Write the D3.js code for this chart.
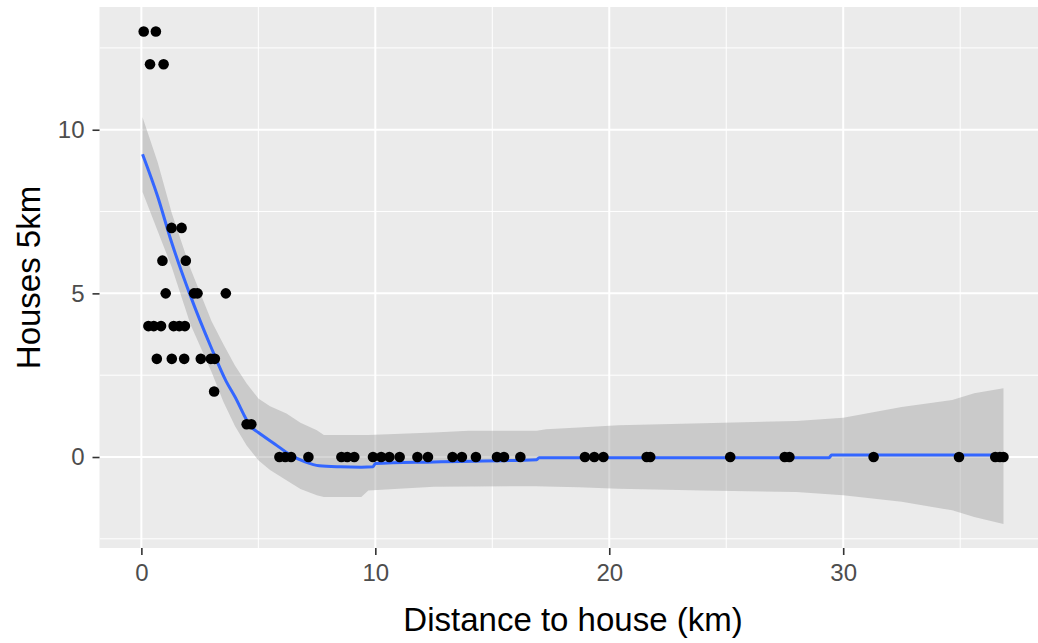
<!DOCTYPE html>
<html>
<head>
<meta charset="utf-8">
<script src="https://cdn.jsdelivr.net/npm/d3@7"></script>
<style>
  html, body { margin: 0; padding: 0; background: #ffffff; }
  svg { display: block; font-family: "Liberation Sans", Arial, sans-serif; }
</style>
</head>
<body>
<svg id="chart" width="1038" height="643"></svg>
<script>
// ---------- data ----------
const pointX = [0.10, 0.62, 0.37, 0.95, 1.29, 1.72, 0.90, 1.90,
  1.04, 2.25, 2.40, 3.61,
  0.30, 0.53, 0.84, 1.38, 1.62, 1.86,
  0.66, 1.30, 1.83, 2.54, 2.97, 3.14,
  3.11, 4.50, 4.70,
  5.90, 6.15, 6.40, 7.14, 8.55, 8.80, 9.10, 9.90, 10.25, 10.60, 11.04, 11.80, 12.25,
  13.30, 13.70, 14.30, 15.20, 15.50, 16.20, 18.96, 19.36, 19.75, 21.60, 21.75,
  25.17, 27.50, 27.70, 31.30, 34.95, 36.50, 36.70, 36.85];
const pointY = [13, 13, 12, 12, 7, 7, 6, 6,
  5, 5, 5, 5,
  4, 4, 4, 4, 4, 4,
  3, 3, 3, 3, 3, 3,
  2, 1, 1,
  0, 0, 0, 0, 0, 0, 0, 0, 0, 0, 0, 0, 0,
  0, 0, 0, 0, 0, 0, 0, 0, 0, 0, 0,
  0, 0, 0, 0, 0, 0, 0, 0];

const smoothX     = [0.05, 0.70, 1.26, 2.11, 2.97, 3.62, 4.00, 4.69, 5.00, 5.70, 6.40, 7.00, 7.60, 8.50, 9.40, 9.90, 10.00, 12.50, 16.90, 17.00, 29.40, 29.50, 36.85];
const smoothY     = [9.25, 7.95, 6.63, 4.90, 3.37, 2.32, 1.84, 0.92, 0.75, 0.40, 0.05, -0.15, -0.27, -0.30, -0.31, -0.30, -0.20, -0.15, -0.08, -0.02, -0.02, 0.06, 0.06];

const bandX       = [0.05, 0.70, 1.30, 2.10, 3.00, 3.50, 4.00, 4.50, 5.00, 5.50, 6.20, 6.80, 7.50, 7.80, 9.40, 9.70, 12.50, 14.00, 16.90, 17.30, 18.70, 20.40, 24.00, 28.00, 30.00, 32.50, 34.66, 35.60, 36.85];
const bandUpper   = [10.38, 9.00, 7.45, 5.75, 4.15, 3.45, 2.80, 2.25, 1.79, 1.55, 1.33, 1.05, 0.82, 0.67, 0.67, 0.67, 0.75, 0.80, 0.80, 0.85, 0.90, 0.97, 1.03, 1.10, 1.20, 1.53, 1.74, 1.95, 2.10];
const bandLower   = [8.10, 6.90, 5.80, 4.05, 2.60, 1.70, 0.95, 0.35, -0.10, -0.40, -0.71, -0.98, -1.17, -1.22, -1.22, -1.02, -0.91, -0.90, -0.89, -0.90, -0.92, -0.97, -1.02, -1.07, -1.17, -1.37, -1.63, -1.83, -2.05];

const xTicks      = [0, 10, 20, 30];
const xMinor      = [5, 15, 25, 35];
const yTicks      = [0, 5, 10];
const yMinor      = [-2.5, 2.5, 7.5, 12.5];
const xTitle      = "Distance to house (km)";
const yTitle      = "Houses 5km";

// ---------- layout ----------
const W = 1038, H = 643;
const panel = { left: 99.5, top: 7, right: 1046.5, bottom: 548 };

const x = d3.scaleLinear().domain([-1.79, 38.69]).range([panel.left, panel.right]);
const y = d3.scaleLinear().domain([-2.78, 13.75]).range([panel.bottom, panel.top]);

const svg = d3.select("#chart");

svg.append("defs").append("clipPath").attr("id", "panelClip")
  .append("rect")
  .attr("x", panel.left).attr("y", panel.top)
  .attr("width", panel.right - panel.left).attr("height", panel.bottom - panel.top);

// panel background
svg.append("rect")
  .attr("x", panel.left).attr("y", panel.top)
  .attr("width", panel.right - panel.left).attr("height", panel.bottom - panel.top)
  .attr("fill", "#EBEBEB");

const grid = svg.append("g").attr("clip-path", "url(#panelClip)");
// minor grid
grid.selectAll(".xminor").data(xMinor).join("line")
  .attr("x1", d => x(d)).attr("x2", d => x(d))
  .attr("y1", panel.top).attr("y2", panel.bottom)
  .attr("stroke", "#ffffff").attr("stroke-width", 1);
grid.selectAll(".yminor").data(yMinor).join("line")
  .attr("y1", d => y(d)).attr("y2", d => y(d))
  .attr("x1", panel.left).attr("x2", panel.right)
  .attr("stroke", "#ffffff").attr("stroke-width", 1);
// major grid
grid.selectAll(".xmajor").data(xTicks).join("line")
  .attr("x1", d => x(d)).attr("x2", d => x(d))
  .attr("y1", panel.top).attr("y2", panel.bottom)
  .attr("stroke", "#ffffff").attr("stroke-width", 2);
grid.selectAll(".ymajor").data(yTicks).join("line")
  .attr("y1", d => y(d)).attr("y2", d => y(d))
  .attr("x1", panel.left).attr("x2", panel.right)
  .attr("stroke", "#ffffff").attr("stroke-width", 2);

const plot = svg.append("g").attr("clip-path", "url(#panelClip)");

// confidence band
const bandData = bandX.map((d, i) => ({ x: d, lo: bandLower[i], hi: bandUpper[i] }));
plot.append("path").datum(bandData)
  .attr("d", d3.area().x(d => x(d.x)).y0(d => y(d.lo)).y1(d => y(d.hi)).curve(d3.curveLinear))
  .attr("fill", "#999999").attr("fill-opacity", 0.4);

// smooth line
const lineData = smoothX.map((d, i) => ({ x: d, y: smoothY[i] }));
plot.append("path").datum(lineData)
  .attr("d", d3.line().x(d => x(d.x)).y(d => y(d.y)).curve(d3.curveMonotoneX))
  .attr("fill", "none").attr("stroke", "#3366FF").attr("stroke-width", 3);

// points
plot.selectAll("circle").data(pointX.map((d, i) => [d, pointY[i]])).join("circle")
  .attr("cx", d => x(d[0])).attr("cy", d => y(d[1]))
  .attr("r", 5.3).attr("fill", "#000000");

// axes
const xAxis = svg.append("g").attr("transform", `translate(0,${panel.bottom})`)
  .call(d3.axisBottom(x).tickValues(xTicks).tickFormat(d3.format("d")).tickSize(7).tickPadding(9));
const yAxis = svg.append("g").attr("transform", `translate(${panel.left},0)`)
  .call(d3.axisLeft(y).tickValues(yTicks).tickFormat(d3.format("d")).tickSize(7).tickPadding(8));

[xAxis, yAxis].forEach(a => {
  a.select(".domain").remove();
  a.selectAll(".tick line").attr("stroke", "#333333").attr("stroke-width", 1.6);
  a.selectAll(".tick text").attr("fill", "#4D4D4D").style("font-size", "24px")
    .style("font-family", '"Liberation Sans", Arial, sans-serif');
});

// titles
svg.append("text")
  .attr("x", (panel.left + panel.right) / 2).attr("y", 631)
  .attr("text-anchor", "middle")
  .style("font-size", "33px").attr("fill", "#000000")
  .text(xTitle);

svg.append("text")
  .attr("transform", `translate(40,${(panel.top + panel.bottom) / 2}) rotate(-90)`)
  .attr("text-anchor", "middle")
  .style("font-size", "33px").attr("fill", "#000000")
  .text(yTitle);
</script>
</body>
</html>
